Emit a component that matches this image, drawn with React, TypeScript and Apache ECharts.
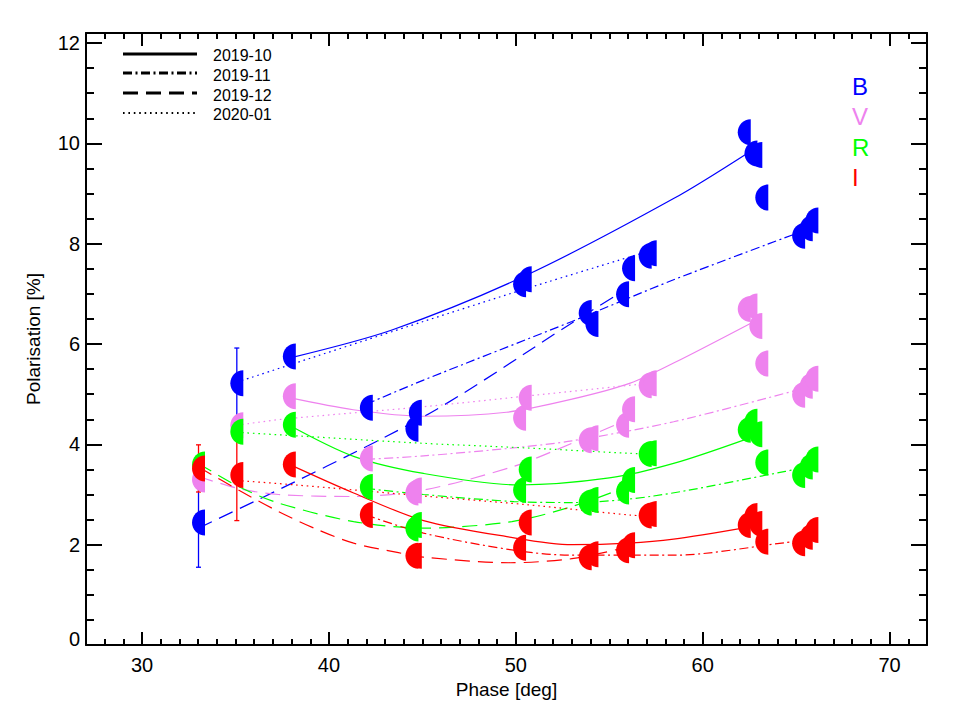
import React, { useEffect, useRef } from "react";
import * as echarts from "echarts";

// ---------- data ----------
const phases = [33.02, 35.07, 37.88, 42.0, 44.44, 44.62, 50.2, 50.5, 53.71, 54.07, 55.71, 56.03, 56.92, 57.19, 62.22, 62.58, 62.84, 63.16, 65.13, 65.54, 65.84];
const polB = [2.44, 5.22, 5.75, 4.73, 4.31, 4.63, 7.19, 7.29, 6.62, 6.40, 6.99, 7.51, 7.76, 7.81, 10.22, 9.80, 9.77, 8.92, 8.16, 8.31, 8.46];
const polV = [3.30, 4.38, 4.96, 3.72, 3.04, 3.08, 4.53, 4.93, 4.08, 4.12, 4.39, 4.70, 5.18, 5.22, 6.70, 6.75, 6.36, 5.61, 4.99, 5.17, 5.31];
const polR = [3.60, 4.25, 4.39, 3.15, 2.32, 2.39, 3.09, 3.50, 2.84, 2.89, 3.06, 3.29, 3.81, 3.82, 4.29, 4.45, 4.20, 3.64, 3.39, 3.56, 3.70];
const polI = [3.52, 3.39, 3.60, 2.59, 1.78, 1.78, 1.94, 2.44, 1.75, 1.81, 1.89, 1.99, 2.58, 2.61, 2.39, 2.57, 2.41, 2.06, 2.03, 2.16, 2.29];

// error bars: [phase, value, error]
const errorBarsB = [[33.02, 2.44, 0.89], [35.07, 5.22, 0.70]];
const errorBarsI = [[33.02, 3.52, 0.47], [35.07, 3.39, 0.91]];

// fitted curves: [phase, polarisation]
const fitB_1910 = [[37.88, 5.72], [43.37, 6.28], [50.5, 7.36], [58.44, 8.9], [62.5, 9.83]];
const fitB_1911 = [[42.0, 4.8], [45.06, 5.28], [53.0, 6.45], [58.44, 7.28], [65.13, 8.22]];
const fitB_1912 = [[33.02, 2.33], [45.06, 4.55], [53.0, 6.42], [55.71, 7.05]];
const fitB_2001 = [[35.07, 5.24], [45.06, 6.45], [50.6, 7.11], [57.19, 7.86]];

const fitV_1910 = [[37.88, 4.93], [41.3, 4.69], [45.06, 4.56], [49.5, 4.64], [53.0, 4.9], [56.12, 5.22], [58.44, 5.62], [62.6, 6.42]];
const fitV_1911 = [[42.0, 3.7], [45.06, 3.77], [49.61, 3.92], [53.0, 4.07], [58.44, 4.45], [65.13, 5.09]];
const fitV_1912 = [[33.02, 3.36], [35.16, 3.12], [37.3, 3.0], [41.32, 2.96], [45.06, 3.09], [49.88, 3.56], [53.0, 4.02], [55.71, 4.45]];
const fitV_2001 = [[35.07, 4.38], [37.5, 4.5], [45.06, 4.75], [50.5, 4.96], [57.19, 5.22]];

const fitR_1910 = [[37.88, 4.38], [41.32, 3.76], [45.06, 3.42], [50.15, 3.19], [55.0, 3.33], [58.44, 3.62], [62.3, 4.1]];
const fitR_1911 = [[42.0, 3.12], [45.06, 3.0], [49.9, 2.86], [53.0, 2.84], [57.37, 2.97], [64.42, 3.46], [65.13, 3.52]];
const fitR_1912 = [[33.02, 3.62], [35.16, 3.16], [37.3, 2.83], [41.32, 2.46], [45.06, 2.33], [49.79, 2.46], [53.0, 2.76], [55.71, 3.12]];
const fitR_2001 = [[35.07, 4.24], [38.24, 4.17], [45.06, 4.02], [50.5, 3.93], [56.12, 3.82], [57.19, 3.81]];

const fitI_1910 = [[37.88, 3.6], [41.32, 3.03], [45.06, 2.48], [49.52, 2.16], [53.0, 2.0], [56.03, 2.03], [58.44, 2.11], [62.3, 2.34]];
const fitI_1911 = [[42.0, 2.59], [45.06, 2.23], [49.88, 1.89], [53.0, 1.79], [58.44, 1.79], [64.42, 2.04], [65.13, 2.08]];
const fitI_1912 = [[33.02, 3.55], [35.16, 3.09], [37.3, 2.66], [39.45, 2.29], [41.32, 2.03], [43.72, 1.84], [45.06, 1.75], [49.7, 1.64], [53.0, 1.72], [55.71, 1.93]];
const fitI_2001 = [[35.07, 3.28], [38.24, 3.19], [45.06, 2.97], [50.5, 2.8], [56.12, 2.59], [57.19, 2.57]];

const epochs = ["2019-10", "2019-11", "2019-12", "2020-01"];
const filters = ["B", "V", "R", "I"];
const xMajorTicks = [30, 40, 50, 60, 70];
const yMajorTicks = [0, 2, 4, 6, 8, 10, 12];
const X_MIN = 27, X_MAX = 72, Y_MIN = 0, Y_MAX = 12.2;

// ---------- styles ----------
const COLORS: Record<string, string> = { B: "#0000ff", V: "#ee82ee", R: "#00ff00", I: "#ff0000" };
const DASH: Record<string, any> = {
  "2019-10": "solid",
  "2019-11": [9, 3.5, 2, 3.5],
  "2019-12": [15, 8],
  "2020-01": [1.6, 3.8],
};
const FONT = "'Liberation Sans', Arial, Helvetica, sans-serif";
const HALF_DISC = "path://M10 0 C4.477 0 0 4.477 0 10 C0 15.523 4.477 20 10 20 Z";

const xMinorTicks: number[] = [];
for (let v = Math.ceil(X_MIN); v <= X_MAX; v += 1) if (!xMajorTicks.includes(v)) xMinorTicks.push(v);
const yMinorTicks: number[] = [];
for (let v = 0.5; v <= Y_MAX; v += 0.5) if (!yMajorTicks.includes(v)) yMinorTicks.push(v);

function axisBase(extra: any) {
  return {
    type: "value",
    splitLine: { show: false },
    axisLine: { show: false, onZero: false, lineStyle: { color: "#000", width: 2 } },
    axisLabel: { show: false },
    ...extra,
  };
}

export default function App() {
  const ref = useRef<HTMLDivElement>(null);
  useEffect(() => {
    if (!ref.current) return;
    const chart = echarts.init(ref.current, undefined, { renderer: "svg" });

    const fits: Record<string, number[][][]> = {
      B: [fitB_1910, fitB_1911, fitB_1912, fitB_2001],
      V: [fitV_1910, fitV_1911, fitV_1912, fitV_2001],
      R: [fitR_1910, fitR_1911, fitR_1912, fitR_2001],
      I: [fitI_1910, fitI_1911, fitI_1912, fitI_2001],
    };
    const pols: Record<string, number[]> = { B: polB, V: polV, R: polR, I: polI };

    const lineSeries: any[] = [];
    filters.forEach((f) => {
      fits[f].forEach((curve, k) => {
        lineSeries.push({
          type: "line",
          name: `${f} ${epochs[k]}`,
          data: curve,
          smooth: 0.3,
          showSymbol: false,
          symbol: "none",
          silent: true,
          z: 2,
          lineStyle: { color: COLORS[f], width: 1.2, type: DASH[epochs[k]] },
        });
      });
    });

    const errSeries = (data: number[][], color: string) => ({
      type: "custom",
      silent: true,
      z: 3,
      data,
      encode: { x: 0, y: 1 },
      renderItem: (_p: any, api: any) => {
        const x = api.value(0), y = api.value(1), e = api.value(2);
        const t = api.coord([x, y + e]);
        const b = api.coord([x, y - e]);
        const hw = 2.5;
        const st = { stroke: color, lineWidth: 1.3 };
        return {
          type: "group",
          children: [
            { type: "line", shape: { x1: t[0], y1: t[1], x2: b[0], y2: b[1] }, style: st },
            { type: "line", shape: { x1: t[0] - hw, y1: t[1], x2: t[0] + hw, y2: t[1] }, style: st },
            { type: "line", shape: { x1: b[0] - hw, y1: b[1], x2: b[0] + hw, y2: b[1] }, style: st },
          ],
        };
      },
    });

    const scatterSeries = filters.map((f) => ({
      type: "scatter",
      name: f,
      data: phases.map((p, i) => [p, pols[f][i]]),
      symbol: HALF_DISC,
      symbolSize: [13, 26],
      silent: true,
      z: 4,
      itemStyle: { color: COLORS[f], opacity: 1 },
    }));

    const legendY = [54, 73, 93, 113];
    const legendTextY = [55, 75, 95, 114.5];
    const legendGraphics: any[] = [];
    epochs.forEach((ep, k) => {
      const d = DASH[ep];
      legendGraphics.push({
        type: "line",
        shape: { x1: 123, y1: legendY[k], x2: 197, y2: legendY[k] },
        style: {
          stroke: "#000",
          lineWidth: k === 3 ? 2 : 3,
          lineDash: d === "solid" ? null : d,
        },
        z: 10,
      });
      legendGraphics.push({
        type: "text",
        x: 213,
        y: legendTextY[k],
        style: { text: ep, fill: "#000", font: `16px ${FONT}`, textVerticalAlign: "middle", textAlign: "left" },
        z: 10,
      });
    });
    const filterY = [86, 116, 147, 177];
    filters.forEach((f, k) => {
      legendGraphics.push({
        type: "text",
        x: 852,
        y: filterY[k],
        style: { text: f, fill: COLORS[f], font: `24px ${FONT}`, textVerticalAlign: "middle", textAlign: "left" },
        z: 10,
      });
    });

    const option: any = {
      animation: false,
      backgroundColor: "#fff",
      grid: { left: 86, right: 35, top: 33, bottom: 67, containLabel: false },
      xAxis: [
        axisBase({
          position: "bottom", min: X_MIN, max: X_MAX,
          axisLine: { show: true, onZero: false, lineStyle: { color: "#000", width: 2 } },
          axisTick: { show: true, inside: true, length: 13, customValues: xMajorTicks, lineStyle: { color: "#000", width: 2 } },
          axisLabel: { show: true, customValues: xMajorTicks, color: "#000", fontSize: 20, fontFamily: FONT, margin: 10 },
          name: "Phase [deg]", nameLocation: "middle", nameGap: 33,
          nameTextStyle: { color: "#000", fontSize: 19, fontFamily: FONT },
        }),
        axisBase({
          position: "bottom", min: X_MIN, max: X_MAX,
          axisTick: { show: true, inside: true, length: 6, customValues: xMinorTicks, lineStyle: { color: "#000", width: 2 } },
        }),
        axisBase({
          position: "top", min: X_MIN, max: X_MAX,
          axisLine: { show: true, onZero: false, lineStyle: { color: "#000", width: 2 } },
          axisTick: { show: true, inside: true, length: 13, customValues: xMajorTicks, lineStyle: { color: "#000", width: 2 } },
        }),
        axisBase({
          position: "top", min: X_MIN, max: X_MAX,
          axisTick: { show: true, inside: true, length: 6, customValues: xMinorTicks, lineStyle: { color: "#000", width: 2 } },
        }),
      ],
      yAxis: [
        axisBase({
          position: "left", min: Y_MIN, max: Y_MAX,
          axisLine: { show: true, onZero: false, lineStyle: { color: "#000", width: 2 } },
          axisTick: { show: true, inside: true, length: 16, customValues: yMajorTicks, lineStyle: { color: "#000", width: 2 } },
          axisLabel: {
            show: true, customValues: yMajorTicks, color: "#000", fontSize: 20, fontFamily: FONT, margin: 6,
            formatter: (v: number) => (v === 0 ? "{z|0}" : String(v)),
            rich: { z: { fontSize: 20, fontFamily: FONT, color: "#000", padding: [0, 0, 12, 0] } },
          },
          name: "Polarisation [%]", nameLocation: "middle", nameGap: 43, nameRotate: 90,
          nameTextStyle: { color: "#000", fontSize: 19, fontFamily: FONT },
        }),
        axisBase({
          position: "left", min: Y_MIN, max: Y_MAX,
          axisTick: { show: true, inside: true, length: 8, customValues: yMinorTicks, lineStyle: { color: "#000", width: 2 } },
        }),
        axisBase({
          position: "right", min: Y_MIN, max: Y_MAX,
          axisLine: { show: true, onZero: false, lineStyle: { color: "#000", width: 2 } },
          axisTick: { show: true, inside: true, length: 16, customValues: yMajorTicks, lineStyle: { color: "#000", width: 2 } },
        }),
        axisBase({
          position: "right", min: Y_MIN, max: Y_MAX,
          axisTick: { show: true, inside: true, length: 8, customValues: yMinorTicks, lineStyle: { color: "#000", width: 2 } },
        }),
      ],
      series: [
        ...lineSeries,
        errSeries(errorBarsB, COLORS.B),
        errSeries(errorBarsI, COLORS.I),
        ...scatterSeries,
      ],
      graphic: legendGraphics,
    };

    chart.setOption(option);
    return () => chart.dispose();
  }, []);

  return (
    <div
      ref={ref}
      style={{ position: "fixed", left: 0, top: 0, width: 962, height: 712, background: "#fff" }}
    />
  );
}
